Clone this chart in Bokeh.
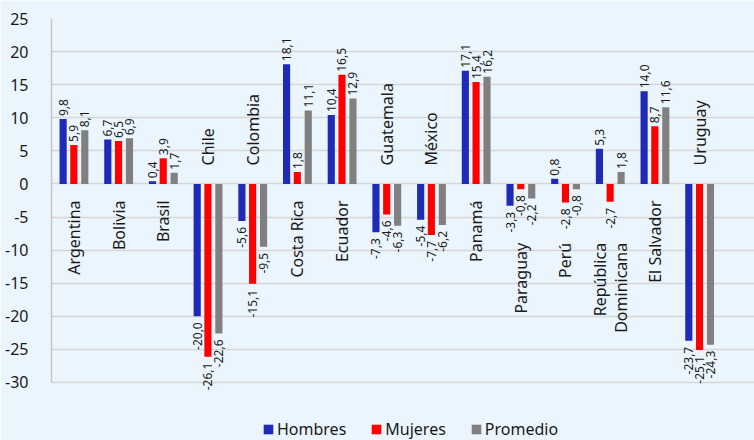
import math
from bokeh.plotting import figure
from bokeh.models import ColumnDataSource, Range1d, FixedTicker, Legend, LegendItem
from bokeh.core.properties import value
from bokeh.embed import file_html
from bokeh.resources import INLINE

# ---- data ----
categories = ["Argentina", "Bolivia", "Brasil", "Chile", "Colombia", "Costa Rica", "Ecuador",
              "Guatemala", "México", "Panamá", "Paraguay", "Perú", "República\nDominicana",
              "El Salvador", "Uruguay"]
hombres = [9.8, 6.7, 0.4, -20.0, -5.6, 18.1, 10.4, -7.3, -5.4, 17.1, -3.3, 0.8, 5.3, 14.0, -23.7]
mujeres = [5.9, 6.5, 3.9, -26.1, -15.1, 1.8, 16.5, -4.6, -7.7, 15.4, -0.8, -2.8, -2.7, 8.7, -25.1]
promedio = [8.1, 6.9, 1.7, -22.6, -9.5, 11.1, 12.9, -6.3, -6.2, 16.2, -2.2, -0.8, 1.8, 11.6, -24.3]
series_names = ["Hombres", "Mujeres", "Promedio"]
yticks = [-30, -25, -20, -15, -10, -5, 0, 5, 10, 15, 20, 25]

# ---- styles ----
FONT = "Noto Sans"
BG = "#EBF5FD"
COLORS = ["#1F2AB8", "#FF0000", "#808080"]
DODGE = [-0.24, 0.0, 0.245]
BAR_W = 0.16
# where each category name sits: "b" just below zero, "bb" further below, "a" just above zero
label_side = ["b", "b", "b", "a", "a", "b", "b", "a", "a", "b", "bb", "bb", "bb", "b", "a"]
side_y = {"b": -2.5, "bb": -8.9, "a": 2.8}
side_align = {"b": "right", "bb": "right", "a": "left"}

p = figure(frame_width=703, frame_height=422, output_backend="svg", toolbar_location=None,
           x_range=Range1d(-0.5, 15.23), y_range=Range1d(-38.77, 25),
           min_border_left=51, min_border_right=0, min_border_top=18, min_border_bottom=0)
p.background_fill_color = BG
p.border_fill_color = BG
p.outline_line_color = None
p.xaxis.visible = False
p.xgrid.visible = False
p.ygrid.grid_line_color = "#D6D6D6"
p.ygrid.grid_line_width = 1.5
p.yaxis.ticker = FixedTicker(ticks=yticks)
p.yaxis.bounds = (min(yticks), max(yticks))
p.yaxis.major_label_overrides = {t: str(t) for t in yticks}
p.yaxis.major_tick_line_color = None
p.yaxis.minor_tick_line_color = None
p.yaxis.axis_line_color = "#C8C8C8"
p.yaxis.axis_line_width = 1.5
p.yaxis.major_label_text_font = FONT
p.yaxis.major_label_text_font_size = "16px"
p.yaxis.major_label_text_color = "#1A1A1A"
p.yaxis.major_label_standoff = 17

xs = list(range(len(categories)))
renderers = []
for name, vals, col, dx in zip(series_names, [hombres, mujeres, promedio], COLORS, DODGE):
    src = ColumnDataSource(dict(
        x=[x + dx for x in xs],
        top=vals,
        lab=[f"{v:.1f}".replace(".", ",") for v in vals],
        align=["left" if v >= 0 else "right" for v in vals],
        yoff=[-3 if v >= 0 else 6 for v in vals],
    ))
    r = p.vbar(x="x", top="top", bottom=0, width=BAR_W, source=src,
               fill_color=col, line_color=None)
    renderers.append(r)
    p.text(x="x", y="top", text="lab", source=src, angle=math.pi / 2,
           text_align="align", y_offset="yoff", text_baseline="middle",
           text_font=value(FONT), text_font_size="12px", text_color="#1A1A1A")

csrc = ColumnDataSource(dict(
    x=xs, y=[side_y[s] for s in label_side], text=categories,
    align=[side_align[s] for s in label_side],
))
p.text(x="x", y="y", text="text", source=csrc, angle=math.pi / 2,
       text_align="align", text_baseline="middle", text_line_height=0.95,
       text_font=value(FONT), text_font_size="16px", text_color="#1A1A1A")

legend = Legend(items=[LegendItem(label=n, renderers=[r]) for n, r in zip(series_names, renderers)],
                orientation="horizontal", location=(211, 0))
legend.padding = 0
legend.margin = 0
legend.spacing = 24
legend.glyph_width = 12
legend.glyph_height = 12
legend.label_standoff = 3
legend.label_height = 18
legend.label_text_font = FONT
legend.label_text_font_size = "16px"
legend.label_text_color = "#1A1A1A"
legend.background_fill_alpha = 0
legend.border_line_color = None
p.add_layout(legend)

open("out.html", "w").write(file_html(p, INLINE))
